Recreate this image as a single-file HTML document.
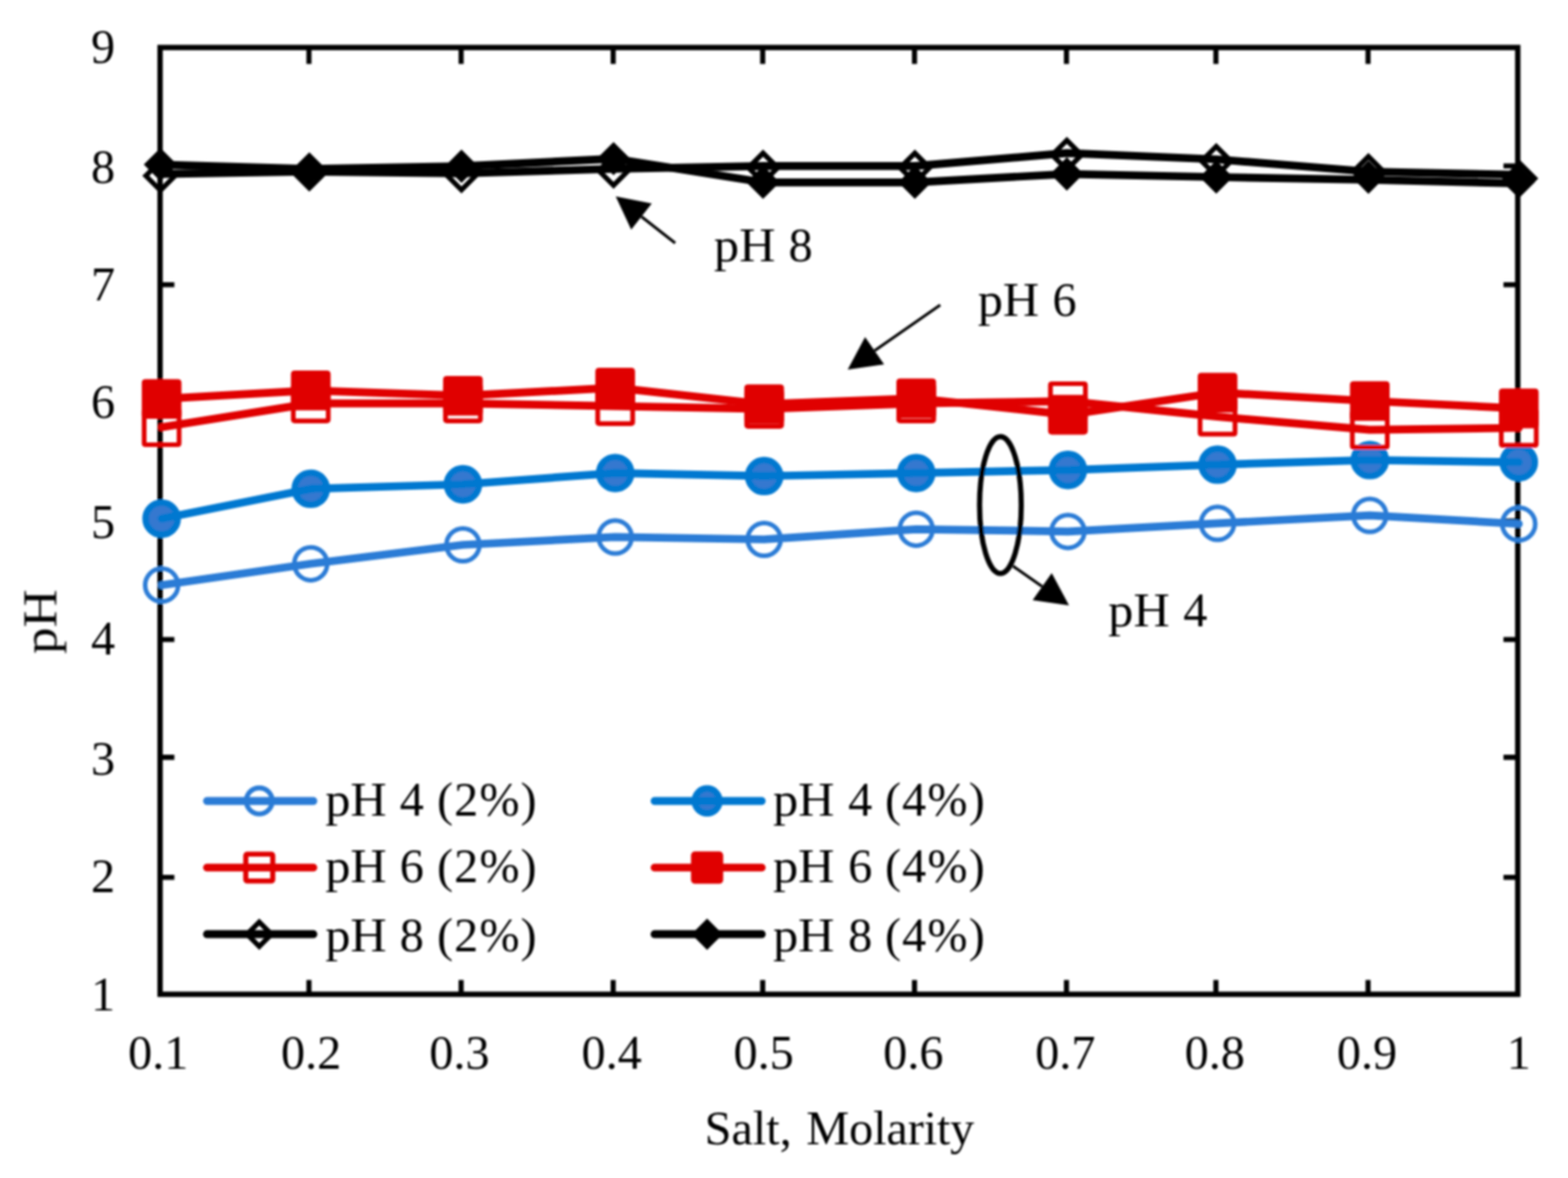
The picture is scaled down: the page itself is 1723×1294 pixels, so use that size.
<!DOCTYPE html>
<html lang="en"><head><meta charset="utf-8"><title>pH vs Salt Molarity</title>
<style>html,body{margin:0;padding:0;background:#fff}body{width:1723px;height:1294px;overflow:hidden}svg{display:block}</style>
</head><body>
<svg width="1723" height="1294" viewBox="0 0 1723 1294" font-family='"Liberation Serif", "Times New Roman", serif' font-size="53" fill="#000">
<defs><filter id="soft" x="0" y="0" width="1723" height="1294" filterUnits="userSpaceOnUse"><feGaussianBlur stdDeviation="0.9"/></filter></defs>
<rect width="1723" height="1294" fill="#fff"/>
<g filter="url(#soft)">
<rect x="175.9" y="52.2" width="1491.9" height="1040.0" fill="none" stroke="#000" stroke-width="5.9"/>
<path d="M339.5 52.2v18M339.5 1092.2v-15.6M506.7 52.2v18M506.7 1092.2v-15.6M673.8 52.2v18M673.8 1092.2v-15.6M838.1 52.2v18M838.1 1092.2v-15.6M1004.9 52.2v18M1004.9 1092.2v-15.6M1171.9 52.2v18M1171.9 1092.2v-15.6M1336.1 52.2v18M1336.1 1092.2v-15.6M1503.3 52.2v18M1503.3 1092.2v-15.6M175.9 182.3h15.7M1667.8 182.3h-15.7M175.9 312.8h15.7M1667.8 312.8h-15.7M175.9 442.3h15.7M1667.8 442.3h-15.7M175.9 572.3h15.7M1667.8 572.3h-15.7M175.9 702.5h15.7M1667.8 702.5h-15.7M175.9 831.9h15.7M1667.8 831.9h-15.7M175.9 963.8h15.7M1667.8 963.8h-15.7" stroke="#000" stroke-width="5.6" fill="none"/>
<polyline points="177.6,642.7 341.5,619.3 508.7,598.5 676.0,589.9 839.7,592.5 1006.8,581.3 1173.5,583.8 1337.9,574.9 1505.2,566.1 1668.9,575.5" fill="none" stroke="#2b7bd6" stroke-width="8.7" stroke-linejoin="round" stroke-linecap="round"/>
<circle cx="177.6" cy="642.7" r="18.1" fill="none" stroke="#2b7bd6" stroke-width="5.0"/>
<circle cx="341.5" cy="619.3" r="18.1" fill="none" stroke="#2b7bd6" stroke-width="5.0"/>
<circle cx="508.7" cy="598.5" r="18.1" fill="none" stroke="#2b7bd6" stroke-width="5.0"/>
<circle cx="676.0" cy="589.9" r="18.1" fill="none" stroke="#2b7bd6" stroke-width="5.0"/>
<circle cx="839.7" cy="592.5" r="18.1" fill="none" stroke="#2b7bd6" stroke-width="5.0"/>
<circle cx="1006.8" cy="581.3" r="18.1" fill="none" stroke="#2b7bd6" stroke-width="5.0"/>
<circle cx="1173.5" cy="583.8" r="18.1" fill="none" stroke="#2b7bd6" stroke-width="5.0"/>
<circle cx="1337.9" cy="574.9" r="18.1" fill="none" stroke="#2b7bd6" stroke-width="5.0"/>
<circle cx="1505.2" cy="566.1" r="18.1" fill="none" stroke="#2b7bd6" stroke-width="5.0"/>
<circle cx="1668.9" cy="575.5" r="18.1" fill="none" stroke="#2b7bd6" stroke-width="5.0"/>
<circle cx="177.6" cy="569.7" r="17.6" fill="#3478cf" stroke="#0078d0" stroke-width="7.2"/>
<circle cx="341.5" cy="536.9" r="17.6" fill="#3478cf" stroke="#0078d0" stroke-width="7.2"/>
<circle cx="508.7" cy="532.0" r="17.6" fill="#3478cf" stroke="#0078d0" stroke-width="7.2"/>
<circle cx="676.0" cy="519.6" r="17.6" fill="#3478cf" stroke="#0078d0" stroke-width="7.2"/>
<circle cx="839.7" cy="522.9" r="17.6" fill="#3478cf" stroke="#0078d0" stroke-width="7.2"/>
<circle cx="1006.8" cy="519.6" r="17.6" fill="#3478cf" stroke="#0078d0" stroke-width="7.2"/>
<circle cx="1173.5" cy="516.3" r="17.6" fill="#3478cf" stroke="#0078d0" stroke-width="7.2"/>
<circle cx="1337.9" cy="510.4" r="17.6" fill="#3478cf" stroke="#0078d0" stroke-width="7.2"/>
<circle cx="1505.2" cy="505.4" r="17.6" fill="#3478cf" stroke="#0078d0" stroke-width="7.2"/>
<circle cx="1668.9" cy="507.7" r="17.6" fill="#3478cf" stroke="#0078d0" stroke-width="7.2"/>
<polyline points="177.6,569.7 341.5,536.9 508.7,532.0 676.0,519.6 839.7,522.9 1006.8,519.6 1173.5,516.3 1337.9,510.4 1505.2,505.4 1668.9,507.7" fill="none" stroke="#0078d0" stroke-width="8.7" stroke-linejoin="round" stroke-linecap="round"/>
<polyline points="177.6,469.3 341.5,443.1 508.7,443.1 676.0,446.1 839.7,449.1 1006.8,443.1 1173.5,440.7 1337.9,457.7 1505.2,472.1 1668.9,470.0" fill="none" stroke="#e00000" stroke-width="8.7" stroke-linejoin="round" stroke-linecap="round"/>
<rect x="158.4" y="450.1" width="38.4" height="38.4" rx="1.5" fill="none" stroke="#e00000" stroke-width="5.2"/>
<rect x="322.3" y="423.9" width="38.4" height="38.4" rx="1.5" fill="none" stroke="#e00000" stroke-width="5.2"/>
<rect x="489.5" y="423.9" width="38.4" height="38.4" rx="1.5" fill="none" stroke="#e00000" stroke-width="5.2"/>
<rect x="656.8" y="426.9" width="38.4" height="38.4" rx="1.5" fill="none" stroke="#e00000" stroke-width="5.2"/>
<rect x="820.5" y="429.9" width="38.4" height="38.4" rx="1.5" fill="none" stroke="#e00000" stroke-width="5.2"/>
<rect x="987.6" y="423.9" width="38.4" height="38.4" rx="1.5" fill="none" stroke="#e00000" stroke-width="5.2"/>
<rect x="1154.3" y="421.5" width="38.4" height="38.4" rx="1.5" fill="none" stroke="#e00000" stroke-width="5.2"/>
<rect x="1318.7" y="438.5" width="38.4" height="38.4" rx="1.5" fill="none" stroke="#e00000" stroke-width="5.2"/>
<rect x="1486.0" y="452.9" width="38.4" height="38.4" rx="1.5" fill="none" stroke="#e00000" stroke-width="5.2"/>
<rect x="1649.7" y="450.8" width="38.4" height="38.4" rx="1.5" fill="none" stroke="#e00000" stroke-width="5.2"/>
<polyline points="177.6,438.2 341.5,428.9 508.7,434.7 676.0,425.9 839.7,444.0 1006.8,437.5 1173.5,455.6 1337.9,431.2 1505.2,440.5 1668.9,448.6" fill="none" stroke="#e00000" stroke-width="8.7" stroke-linejoin="round" stroke-linecap="round"/>
<rect x="158.4" y="419.0" width="38.4" height="38.4" rx="1.5" fill="#e00000" stroke="#e00000" stroke-width="5.2"/>
<rect x="322.3" y="409.7" width="38.4" height="38.4" rx="1.5" fill="#e00000" stroke="#e00000" stroke-width="5.2"/>
<rect x="489.5" y="415.5" width="38.4" height="38.4" rx="1.5" fill="#e00000" stroke="#e00000" stroke-width="5.2"/>
<rect x="656.8" y="406.7" width="38.4" height="38.4" rx="1.5" fill="#e00000" stroke="#e00000" stroke-width="5.2"/>
<rect x="820.5" y="424.8" width="38.4" height="38.4" rx="1.5" fill="#e00000" stroke="#e00000" stroke-width="5.2"/>
<rect x="987.6" y="418.3" width="38.4" height="38.4" rx="1.5" fill="#e00000" stroke="#e00000" stroke-width="5.2"/>
<rect x="1154.3" y="436.4" width="38.4" height="38.4" rx="1.5" fill="#e00000" stroke="#e00000" stroke-width="5.2"/>
<rect x="1318.7" y="412.0" width="38.4" height="38.4" rx="1.5" fill="#e00000" stroke="#e00000" stroke-width="5.2"/>
<rect x="1486.0" y="421.3" width="38.4" height="38.4" rx="1.5" fill="#e00000" stroke="#e00000" stroke-width="5.2"/>
<rect x="1649.7" y="429.4" width="38.4" height="38.4" rx="1.5" fill="#e00000" stroke="#e00000" stroke-width="5.2"/>
<polyline points="176.3,191.1 339.9,188.5 507.1,190.5 674.2,185.5 838.5,182.3 1005.3,182.3 1172.3,168.2 1336.5,175.0 1503.7,188.5 1670.4,192.0" fill="none" stroke="#000" stroke-width="8.7" stroke-linejoin="round" stroke-linecap="round"/>
<path d="M160.2 193.1L176.3 177.0L192.4 193.1L176.3 209.2Z" fill="none" stroke="#000" stroke-width="5.5" stroke-linejoin="miter"/>
<path d="M323.8 190.5L339.9 174.4L356.0 190.5L339.9 206.6Z" fill="none" stroke="#000" stroke-width="5.5" stroke-linejoin="miter"/>
<path d="M491.0 192.5L507.1 176.4L523.2 192.5L507.1 208.6Z" fill="none" stroke="#000" stroke-width="5.5" stroke-linejoin="miter"/>
<path d="M658.1 187.5L674.2 171.4L690.3 187.5L674.2 203.6Z" fill="none" stroke="#000" stroke-width="5.5" stroke-linejoin="miter"/>
<path d="M822.4 184.3L838.5 168.2L854.6 184.3L838.5 200.4Z" fill="none" stroke="#000" stroke-width="5.5" stroke-linejoin="miter"/>
<path d="M989.2 184.3L1005.3 168.2L1021.4 184.3L1005.3 200.4Z" fill="none" stroke="#000" stroke-width="5.5" stroke-linejoin="miter"/>
<path d="M1156.2 170.2L1172.3 154.1L1188.4 170.2L1172.3 186.3Z" fill="none" stroke="#000" stroke-width="5.5" stroke-linejoin="miter"/>
<path d="M1320.4 177.0L1336.5 160.9L1352.6 177.0L1336.5 193.1Z" fill="none" stroke="#000" stroke-width="5.5" stroke-linejoin="miter"/>
<path d="M1487.6 188.0L1503.7 171.9L1519.8 188.0L1503.7 204.1Z" fill="none" stroke="#000" stroke-width="5.5" stroke-linejoin="miter"/>
<path d="M1654.3 196.0L1670.4 179.9L1686.5 196.0L1670.4 212.1Z" fill="none" stroke="#000" stroke-width="5.5" stroke-linejoin="miter"/>
<polyline points="176.3,180.8 339.9,185.5 507.1,182.6 674.2,174.3 838.5,200.3 1005.3,200.3 1172.3,191.1 1336.5,194.5 1503.7,197.5 1668.9,201.5" fill="none" stroke="#000" stroke-width="8.7" stroke-linejoin="round" stroke-linecap="round"/>
<path d="M161.9 180.8L176.3 166.4L190.7 180.8L176.3 195.2Z" fill="#000" stroke="#000" stroke-width="5.5" stroke-linejoin="miter"/>
<path d="M325.5 185.5L339.9 171.1L354.3 185.5L339.9 199.9Z" fill="#000" stroke="#000" stroke-width="5.5" stroke-linejoin="miter"/>
<path d="M492.7 182.6L507.1 168.2L521.5 182.6L507.1 197.0Z" fill="#000" stroke="#000" stroke-width="5.5" stroke-linejoin="miter"/>
<path d="M659.8 174.3L674.2 159.9L688.6 174.3L674.2 188.7Z" fill="#000" stroke="#000" stroke-width="5.5" stroke-linejoin="miter"/>
<path d="M824.1 200.3L838.5 185.9L852.9 200.3L838.5 214.7Z" fill="#000" stroke="#000" stroke-width="5.5" stroke-linejoin="miter"/>
<path d="M990.9 200.3L1005.3 185.9L1019.7 200.3L1005.3 214.7Z" fill="#000" stroke="#000" stroke-width="5.5" stroke-linejoin="miter"/>
<path d="M1157.9 191.1L1172.3 176.7L1186.7 191.1L1172.3 205.5Z" fill="#000" stroke="#000" stroke-width="5.5" stroke-linejoin="miter"/>
<path d="M1322.1 194.5L1336.5 180.1L1350.9 194.5L1336.5 208.9Z" fill="#000" stroke="#000" stroke-width="5.5" stroke-linejoin="miter"/>
<path d="M1489.3 194.6L1503.7 180.2L1518.1 194.6L1503.7 209.0Z" fill="#000" stroke="#000" stroke-width="5.5" stroke-linejoin="miter"/>
<path d="M1654.5 199.5L1668.9 185.1L1683.3 199.5L1668.9 213.9Z" fill="#000" stroke="#000" stroke-width="5.5" stroke-linejoin="miter"/>
<text x="173.8" y="1174.3" text-anchor="middle">0.1</text>
<text x="341.8" y="1174.3" text-anchor="middle">0.2</text>
<text x="504.8" y="1174.3" text-anchor="middle">0.3</text>
<text x="672.2" y="1174.3" text-anchor="middle">0.4</text>
<text x="839.2" y="1174.3" text-anchor="middle">0.5</text>
<text x="1003.7" y="1174.3" text-anchor="middle">0.6</text>
<text x="1170.6" y="1174.3" text-anchor="middle">0.7</text>
<text x="1334.9" y="1174.3" text-anchor="middle">0.8</text>
<text x="1502.2" y="1174.3" text-anchor="middle">0.9</text>
<text x="1669.0" y="1174.3" text-anchor="middle">1</text>
<text x="113.2" y="69.0" text-anchor="middle">9</text>
<text x="113.2" y="200.9" text-anchor="middle">8</text>
<text x="113.2" y="330.0" text-anchor="middle">7</text>
<text x="113.2" y="459.2" text-anchor="middle">6</text>
<text x="113.2" y="591.1" text-anchor="middle">5</text>
<text x="113.2" y="719.2" text-anchor="middle">4</text>
<text x="113.2" y="850.7" text-anchor="middle">3</text>
<text x="113.2" y="980.0" text-anchor="middle">2</text>
<text x="113.2" y="1110.1" text-anchor="middle">1</text>
<text x="774.2" y="1256.7">Salt,</text>
<text x="886.1" y="1256.7" textLength="184.5" lengthAdjust="spacing">Molarity</text>
<text transform="translate(61.8 682.8) rotate(-90)" text-anchor="middle" textLength="71" lengthAdjust="spacingAndGlyphs">pH</text>
<text x="784.6" y="287.2" textLength="67.5" lengthAdjust="spacingAndGlyphs">pH</text><text x="866.4" y="287.2">8</text>
<text x="1074.4" y="347.0" textLength="67.5" lengthAdjust="spacingAndGlyphs">pH</text><text x="1156.5" y="347.0">6</text>
<text x="1217.8" y="687.9" textLength="67.5" lengthAdjust="spacingAndGlyphs">pH</text><text x="1300.2" y="687.9">4</text>
<ellipse cx="1099.3" cy="554.8" rx="22.9" ry="75.1" fill="none" stroke="#000" stroke-width="5.7"/>
<line x1="741.9" y1="267.1" x2="704.9" y2="238.0" stroke="#000" stroke-width="3.2"/><polygon points="676.6,215.7 716.2,223.6 693.6,252.3" fill="#000"/>
<line x1="1033.2" y1="335.0" x2="961.0" y2="385.3" stroke="#000" stroke-width="3.2"/><polygon points="931.5,405.9 950.6,370.3 971.5,400.3" fill="#000"/>
<line x1="1113.3" y1="621.9" x2="1145.2" y2="644.3" stroke="#000" stroke-width="3.2"/><polygon points="1174.7,665.0 1134.7,659.3 1155.7,629.4" fill="#000"/>
<line x1="227.5" y1="879.8" x2="344.3" y2="879.8" stroke="#2b7bd6" stroke-width="8.7" stroke-linecap="round"/>
<circle cx="284.9" cy="879.8" r="14.3" fill="none" stroke="#2b7bd6" stroke-width="5.4"/>
<circle cx="777.0" cy="879.8" r="13.6" fill="#3478cf" stroke="#0078d0" stroke-width="7.2"/>
<line x1="719.3" y1="879.8" x2="837.0" y2="879.8" stroke="#0078d0" stroke-width="8.7" stroke-linecap="round"/>
<text x="357.4" y="896.2" textLength="67.5" lengthAdjust="spacingAndGlyphs">pH</text><text x="439.2" y="896.2">4</text><text x="480.2" y="896.2" letter-spacing="1.2">(2%)</text>
<text x="849.4" y="896.2" textLength="67.5" lengthAdjust="spacingAndGlyphs">pH</text><text x="931.9" y="896.2">4</text><text x="972.5" y="896.2" letter-spacing="1.2">(4%)</text>
<line x1="227.5" y1="953.0" x2="344.3" y2="953.0" stroke="#e00000" stroke-width="8.7" stroke-linecap="round"/>
<rect x="270.1" y="938.2" width="29.6" height="29.6" rx="1.5" fill="none" stroke="#e00000" stroke-width="5.6"/>
<line x1="719.3" y1="953.0" x2="837.0" y2="953.0" stroke="#e00000" stroke-width="8.7" stroke-linecap="round"/>
<rect x="762.1" y="938.1" width="29.8" height="29.8" rx="1.5" fill="#e00000" stroke="#e00000" stroke-width="5.6"/>
<text x="357.4" y="969.2" textLength="67.5" lengthAdjust="spacingAndGlyphs">pH</text><text x="439.2" y="969.2">6</text><text x="480.2" y="969.2" letter-spacing="1.2">(2%)</text>
<text x="849.4" y="969.2" textLength="67.5" lengthAdjust="spacingAndGlyphs">pH</text><text x="931.9" y="969.2">6</text><text x="972.5" y="969.2" letter-spacing="1.2">(4%)</text>
<line x1="227.5" y1="1026.2" x2="344.3" y2="1026.2" stroke="#000" stroke-width="8.7" stroke-linecap="round"/>
<path d="M271.5 1026.2L284.9 1012.8L298.3 1026.2L284.9 1039.6Z" fill="none" stroke="#000" stroke-width="5.5" stroke-linejoin="miter"/>
<line x1="719.3" y1="1026.2" x2="837.0" y2="1026.2" stroke="#000" stroke-width="8.7" stroke-linecap="round"/>
<path d="M763.7 1026.2L777.0 1012.9L790.3 1026.2L777.0 1039.5Z" fill="#000" stroke="#000" stroke-width="5.5" stroke-linejoin="miter"/>
<text x="357.4" y="1045.3" textLength="67.5" lengthAdjust="spacingAndGlyphs">pH</text><text x="439.2" y="1045.3">8</text><text x="480.2" y="1045.3" letter-spacing="1.2">(2%)</text>
<text x="849.4" y="1045.3" textLength="67.5" lengthAdjust="spacingAndGlyphs">pH</text><text x="931.9" y="1045.3">8</text><text x="972.5" y="1045.3" letter-spacing="1.2">(4%)</text>
</g>
</svg>
</body></html>
